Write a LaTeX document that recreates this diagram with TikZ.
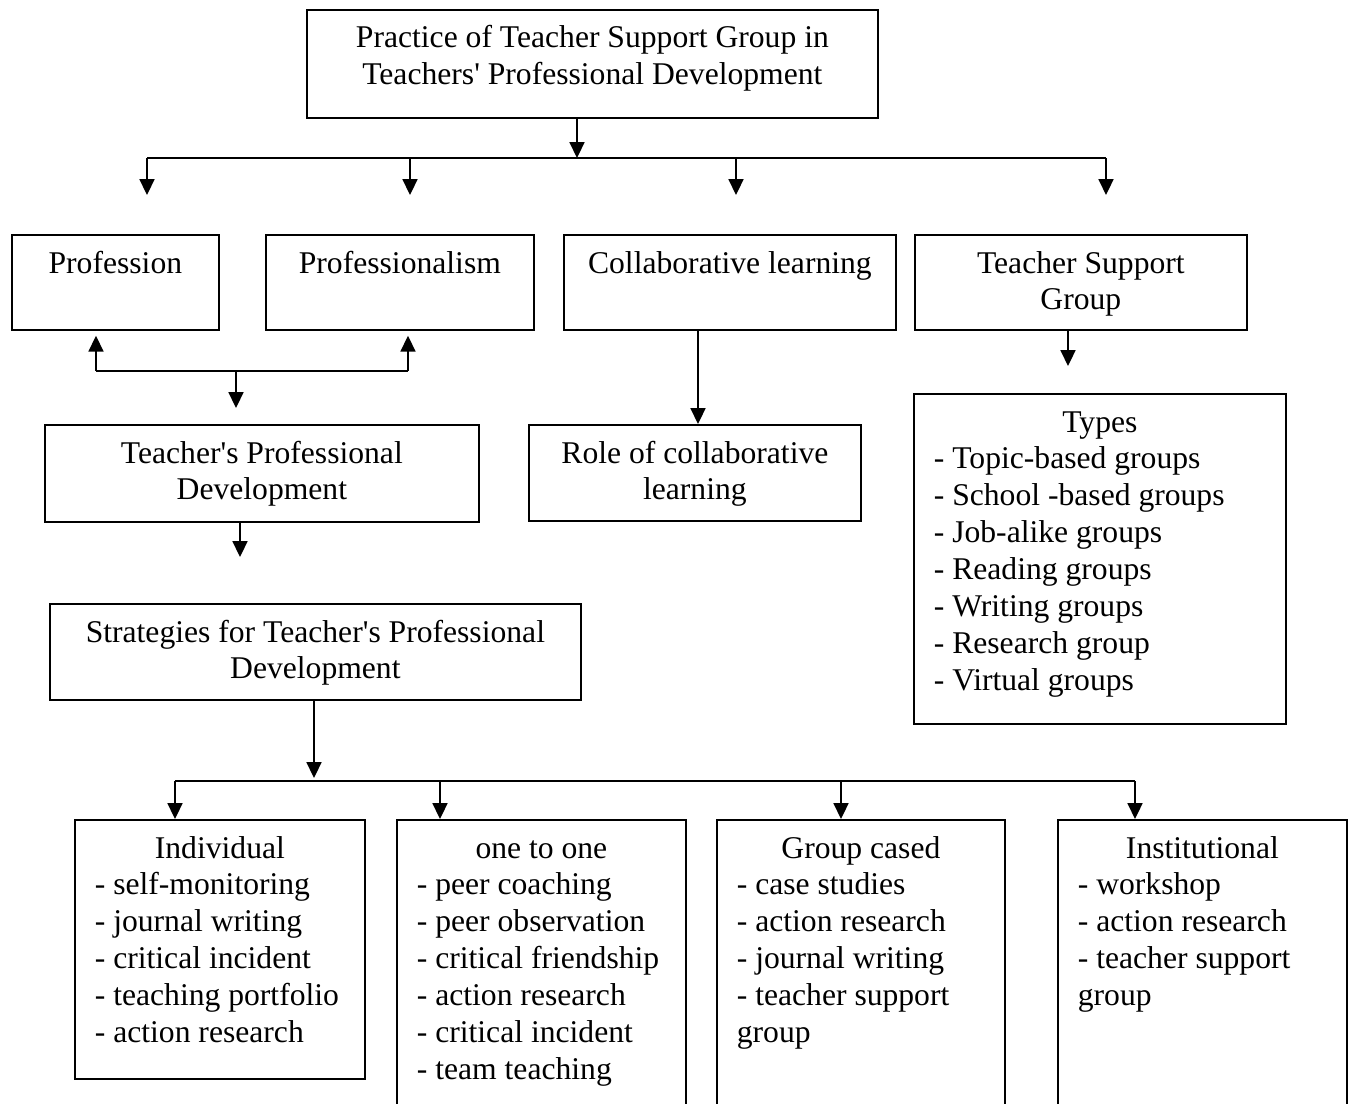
\documentclass[tikz,border=0pt]{standalone}
\usepackage{fontspec}
\setmainfont{Liberation Serif}[Ligatures=TeXOff]
\usetikzlibrary{arrows.meta}
\newlength{\pxu}
\setlength{\pxu}{0.02cm}
\newcommand{\bx}[3]{\parbox[c][#2\pxu][t]{#1\pxu}{\vspace*{7pt}#3}}

\begin{document}
\begin{tikzpicture}[x=0.02cm,y=-0.02cm,
        line width=1pt,
        font=\fontsize{18}{21}\selectfont,
        box/.style={draw, inner sep=0pt, anchor=north west},
        arr/.style={-{Triangle[length=9pt,width=8.5pt]}}]
    \clip (0,0) rectangle (1354,1104);
    \fill[white] (0,0) rectangle (1354,1104);

    % boxes
    \node[box] (main) at (306,9) {\bx{571}{108}{\centering\strut
        Practice of Teacher Support Group in\\Teachers' Professional Development}};
    \node[box] (prof) at (11,234) {\bx{207}{95}{\centering\strut Profession}};
    \node[box] (profism) at (265,234) {\bx{268}{95}{\centering\strut Professionalism}};
    \node[box] (collab) at (563,234) {\bx{332}{95}{\centering\strut Collaborative learning}};
    \node[box] (tsg) at (914,234) {\bx{332}{95}{\centering\strut Teacher Support\\Group}};
    \node[box] (tpd) at (44,424) {\bx{434}{97}{\centering\strut Teacher's Professional\\Development}};
    \node[box] (role) at (528,424) {\bx{332}{96}{\centering\strut Role of collaborative\\learning}};
    \node[box] (types) at (913,393) {\bx{372}{330}{\centering\strut Types\par
        \raggedright\leftskip=20\pxu
        - Topic-based groups\\- School -based groups\\- Job-alike groups\\- Reading groups\\
        - Writing groups\\- Research group\\- Virtual groups}};
    \node[box] (strat) at (49,603) {\bx{531}{96}{\centering\strut
        Strategies for Teacher's Professional\\Development}};
    \node[box] (indiv) at (74,819) {\bx{290}{259}{\centering\strut Individual\par
        \raggedright\leftskip=20\pxu
        - self-monitoring\\- journal writing\\- critical incident\\- teaching portfolio\\
        - action research}};
    \node[box] (one) at (396,819) {\bx{289}{300}{\centering\strut one to one\par
        \raggedright\leftskip=20\pxu
        - peer coaching\\- peer observation\\- critical friendship\\- action research\\
        - critical incident\\- team teaching}};
    \node[box] (grp) at (716,819) {\bx{288}{300}{\centering\strut Group cased\par
        \raggedright\leftskip=20\pxu
        - case studies\\- action research\\- journal writing\\- teacher support\\group}};
    \node[box] (inst) at (1057,819) {\bx{289}{300}{\centering\strut Institutional\par
        \raggedright\leftskip=20\pxu
        - workshop\\- action research\\- teacher support\\group}};

    % junctions and free ends
    \coordinate (hub) at (577,158);
    \coordinate (t1) at (147,158);  \coordinate (e1) at (147,195);
    \coordinate (t2) at (410,158);  \coordinate (e2) at (410,195);
    \coordinate (t3) at (736,158);  \coordinate (e3) at (736,195);
    \coordinate (t4) at (1106,158); \coordinate (e4) at (1106,195);
    \coordinate (pl) at (96,371);   \coordinate (pr) at (408,371);
    \coordinate (pm) at (236,371);  \coordinate (pd) at (236,408);
    \coordinate (td) at (240,557);
    \coordinate (cl) at (698,0);
    \coordinate (sd) at (1068,366);
    \coordinate (shub) at (314,781);
    \coordinate (s1) at (175,781);  \coordinate (s2) at (440,781);
    \coordinate (s3) at (841,781);  \coordinate (s4) at (1135,781);

    % connectors
    \draw[arr] (main.south -| hub) -- (hub);
    \draw (t1) -- (t4);
    \foreach \i in {1,...,4}
        \draw[arr] (t\i) -- (e\i);

    \draw[arr] (pl) -- ([yshift=-5\pxu]prof.south -| pl);
    \draw[arr] (pr) -- ([yshift=-5\pxu]profism.south -| pr);
    \draw (pl) -- (pr);
    \draw[arr] (pm) -- (pd);

    \draw[arr] (collab.south -| cl) -- (role.north -| cl);
    \draw[arr] (tsg.south -| sd) -- (sd);
    \draw[arr] (tpd.south -| td) -- (td);

    \draw[arr] (strat.south -| shub) -- ([yshift=3\pxu]shub);
    \draw (s1) -- (s4);
    \draw[arr] (s1) -- (indiv.north -| s1);
    \draw[arr] (s2) -- (one.north -| s2);
    \draw[arr] (s3) -- (grp.north -| s3);
    \draw[arr] (s4) -- (inst.north -| s4);
\end{tikzpicture}
\end{document}
